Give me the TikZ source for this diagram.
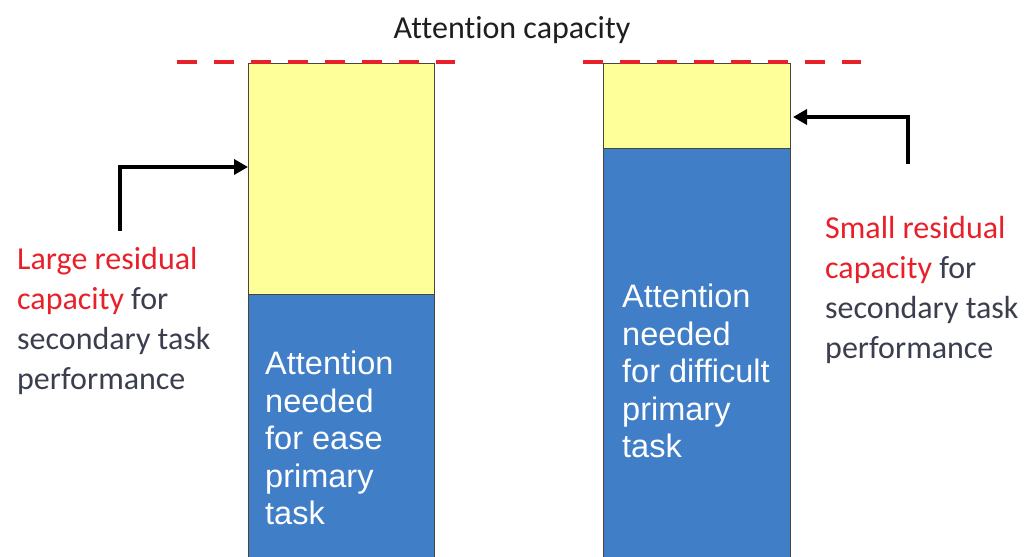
\documentclass[tikz,border=0pt]{standalone}
\usepackage{fontspec}
\setmainfont{Carlito}[Ligatures=NoCommon]
\newfontfamily\arialfont{Liberation Sans}
\usetikzlibrary{arrows.meta}
\definecolor{capred}{RGB}{232,32,42}
\definecolor{slate}{RGB}{58,62,78}
\definecolor{resyellow}{RGB}{255,255,153}
\definecolor{needblue}{RGB}{64,126,200}
\definecolor{edgegray}{RGB}{70,70,60}
\tikzset{
  barpart/.style={draw=edgegray, line width=1bp, inner sep=0, outer sep=0},
  ybar/.style={barpart, fill=resyellow},
  bbar/.style={barpart, fill=needblue},
  capline/.style={draw=capred, line width=4.5bp, dash pattern=on 20bp off 17bp},
  pointer/.style={draw=black, line width=4bp, -{Triangle[length=14bp,width=15bp]}},
  sidetext/.style={font=\fontsize{32bp}{40bp}\selectfont, text=slate, align=left, inner sep=0, anchor=west},
  bartext/.style={font=\arialfont\fontsize{32.5bp}{37.5bp}\selectfont, text=white, align=left, inner sep=0, anchor=west},
}
\begin{document}
\begin{tikzpicture}[x=1bp, y=-1bp]
\useasboundingbox (0,0) rectangle (1026,557);
% title
\node[font=\fontsize{32bp}{40bp}\selectfont, text={rgb,255:red,30;green,30;blue,30}, inner sep=0] (title) at (512,30) {Attention capacity};
% left bar
\node[ybar, minimum width=186bp, minimum height=231bp, anchor=north west] (ly) at (248,64) {};
\node[bbar, minimum width=186bp, minimum height=268bp, anchor=north west] (lb) at (248,295) {};
% right bar
\node[ybar, minimum width=187bp, minimum height=85bp, anchor=north west] (ry) at (603,64) {};
\node[bbar, minimum width=187bp, minimum height=414bp, anchor=north west] (rb) at (603,149) {};
% capacity lines
\coordinate (lc1) at (177,62);
\coordinate (lc2) at (455,62);
\coordinate (rc1) at (583,62);
\coordinate (rc2) at (861,62);
\draw[capline] (lc1) -- (lc2);
\draw[capline] (rc1) -- (rc2);
% pointers
\coordinate (lstart) at (120,231);
\coordinate (rstart) at (908,164);
\draw[pointer] (lstart) |- (ly.west |- 0,167);
\draw[pointer] (rstart) |- ([xshift=3bp]ry.east |- 0,117);
% side texts
\node[sidetext] (ltext) at (17,321) {\textcolor{capred}{Large residual}\\\textcolor{capred}{capacity} for\\secondary task\\performance};
\node[sidetext] (rtext) at (825,290) {\textcolor{capred}{Small residual}\\\textcolor{capred}{capacity} for\\secondary task\\performance};
% bar texts
\node[bartext] (ltask) at (265,438) {Attention\\needed\\for ease\\primary\\task};
\node[bartext] (rtask) at (622,371) {Attention\\needed\\for difficult\\primary\\task};
\end{tikzpicture}
\end{document}
